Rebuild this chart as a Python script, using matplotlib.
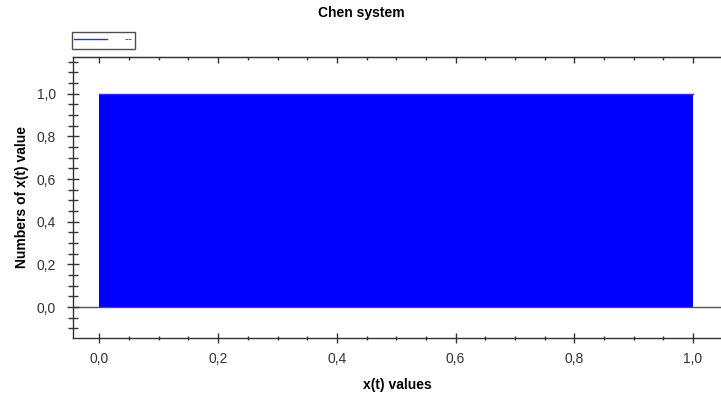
import matplotlib
matplotlib.use('Agg')
import matplotlib.pyplot as plt
from matplotlib.ticker import MultipleLocator, FuncFormatter

# datos del grafico
x_vals = [0.0, 1.0]
y_vals = [1.0, 1.0]
series_label = '--'
title = 'Chen system'
x_label = 'x(t) values'
y_label = 'Numbers of x(t) value'

plt.rcParams['font.family'] = ['Liberation Sans', 'DejaVu Sans']

fig = plt.figure(figsize=(7.21, 3.96), dpi=100)
ax = fig.add_axes([0.1012, 0.1465, 0.8995, 0.7096])

ax.fill_between(x_vals, 0, y_vals, color='#0000ff', linewidth=0, label=None)
ax.plot(x_vals, y_vals, color='#2b2bff', linewidth=1, label=series_label)
ax.axhline(0, color='#555555', linewidth=1, zorder=0)

ax.set_xlim(-0.0446, 1.048)
ax.set_ylim(-0.145, 1.172)

ax.xaxis.set_major_locator(MultipleLocator(0.2))
ax.xaxis.set_minor_locator(MultipleLocator(0.05))
ax.yaxis.set_major_locator(MultipleLocator(0.2))
ax.yaxis.set_minor_locator(MultipleLocator(0.05))

comma = FuncFormatter(lambda v, p: f'{v:.1f}'.replace('.', ',').replace('-0,0', '0,0'))
ax.xaxis.set_major_formatter(comma)
ax.yaxis.set_major_formatter(comma)

ax.spines['right'].set_visible(False)
for side in ['left', 'bottom', 'top']:
    ax.spines[side].set_color('#333333')
    ax.spines[side].set_linewidth(1)

ax.tick_params(axis='x', which='major', direction='inout', length=7.5, width=1,
               color='#333333', labelsize=10, labelcolor='#333333', pad=6)
ax.tick_params(axis='x', which='minor', direction='inout', length=3.4, width=1, color='#333333')
ax.tick_params(axis='y', which='major', direction='inout', length=8.7, width=1,
               color='#333333', labelsize=10, labelcolor='#333333', pad=8)
ax.tick_params(axis='y', which='minor', direction='inout', length=6.5, width=1, color='#333333')

# eje superior solo con marcas hacia dentro
top = ax.secondary_xaxis('top')
top.xaxis.set_major_locator(MultipleLocator(0.2))
top.xaxis.set_minor_locator(MultipleLocator(0.05))
top.tick_params(which='major', direction='in', length=4.5, width=1, color='#333333', labeltop=False)
top.tick_params(which='minor', direction='in', length=2.2, width=1, color='#333333')
top.spines['top'].set_color('#333333')

ax.set_xlabel(x_label, fontsize=10, fontweight='bold', labelpad=9,
              family=['Liberation Sans Narrow', 'Liberation Sans'])
ax.set_ylabel(y_label, fontsize=10, fontweight='bold', labelpad=5,
              family=['Liberation Sans Narrow', 'Liberation Sans'])
fig.text(0.5007, 0.968, title, ha='center', va='center', fontsize=10, fontweight='bold')

leg = ax.legend(loc='lower left', bbox_to_anchor=(-0.002, 1.03), borderaxespad=0,
                fontsize=9, handlelength=2.6, frameon=True, fancybox=False,
                borderpad=0.2, handletextpad=1.4, labelcolor='#444444')
leg.get_frame().set_edgecolor('#222222')
leg.get_frame().set_linewidth(1)

fig.savefig('out.png', dpi=100)
